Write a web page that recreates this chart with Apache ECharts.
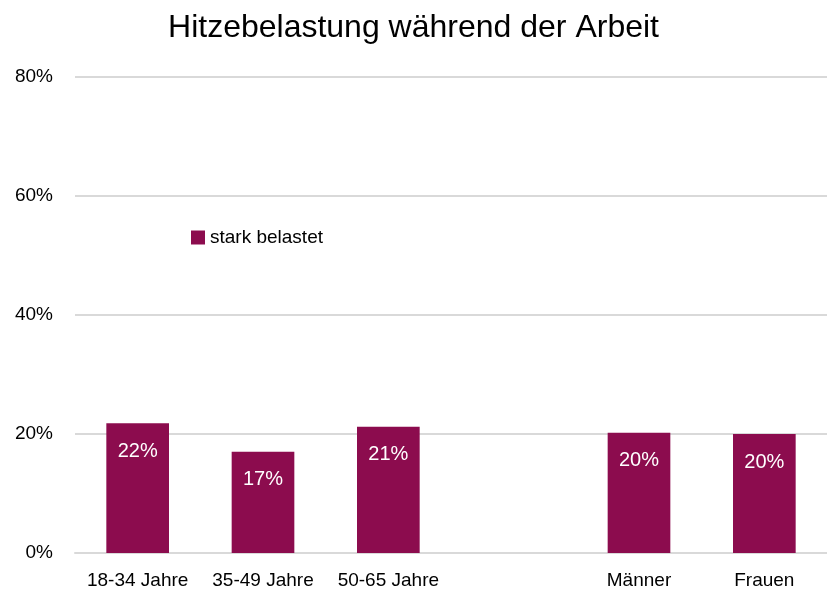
<!DOCTYPE html>
<html>
<head>
<meta charset="utf-8">
<script src="https://cdn.jsdelivr.net/npm/echarts@6/dist/echarts.min.js"></script>
<style>
  html, body { margin: 0; padding: 0; background: #fff; }
  #chart { width: 827px; height: 590px; }
</style>
</head>
<body>
<div id="chart"></div>
<script>
  // Hitzebelastung während der Arbeit
  var categories = ['18-34 Jahre', '35-49 Jahre', '50-65 Jahre', '', 'Männer', 'Frauen'];
  var starkBelastet = [21.8, 17.0, 21.2, null, 20.2, 20.0];
  var yTicks = [0, 20, 40, 60, 80];

  var font = '"Liberation Sans", Arial, sans-serif';
  var chart = echarts.init(document.getElementById('chart'));

  chart.setOption({
    animation: false,
    textStyle: { fontFamily: font },
    title: {
      text: 'Hitzebelastung während der Arbeit',
      left: 'center',
      top: 7,
      textStyle: { fontFamily: font, fontSize: 32, fontWeight: 'normal', color: '#000' }
    },
    legend: {
      left: 186,
      top: 223,
      itemWidth: 14,
      itemHeight: 14,
      itemGap: 4,
      textStyle: { fontFamily: font, fontSize: 19, color: '#000' },
      data: [{ name: 'stark belastet', icon: 'rect' }]
    },
    grid: {
      left: 75,
      right: 0,
      top: 77,
      bottom: 37,
      containLabel: false
    },
    xAxis: {
      type: 'category',
      data: categories,
      axisLine: { show: true, lineStyle: { color: '#d9d9d9', width: 2 } },
      axisTick: { show: false },
      axisLabel: { interval: 0, fontFamily: font, fontSize: 19, color: '#000', margin: 18 }
    },
    yAxis: {
      type: 'value',
      min: yTicks[0],
      max: yTicks[yTicks.length - 1],
      interval: 20,
      axisLine: { show: false },
      axisTick: { show: false },
      splitLine: { lineStyle: { color: '#d9d9d9', width: 2 } },
      axisLabel: {
        fontFamily: font, fontSize: 19, color: '#000', margin: 22,
        formatter: function (v) { return v + '%'; }
      }
    },
    series: [{
      name: 'stark belastet',
      type: 'bar',
      data: starkBelastet,
      barWidth: '50%',
      itemStyle: { color: '#8c0c4e' },
      label: {
        show: true,
        position: 'insideTop',
        distance: 18,
        fontFamily: font,
        fontSize: 20,
        color: '#fff',
        formatter: function (p) { return Math.round(p.value) + '%'; }
      }
    }]
  });
</script>
</body>
</html>
